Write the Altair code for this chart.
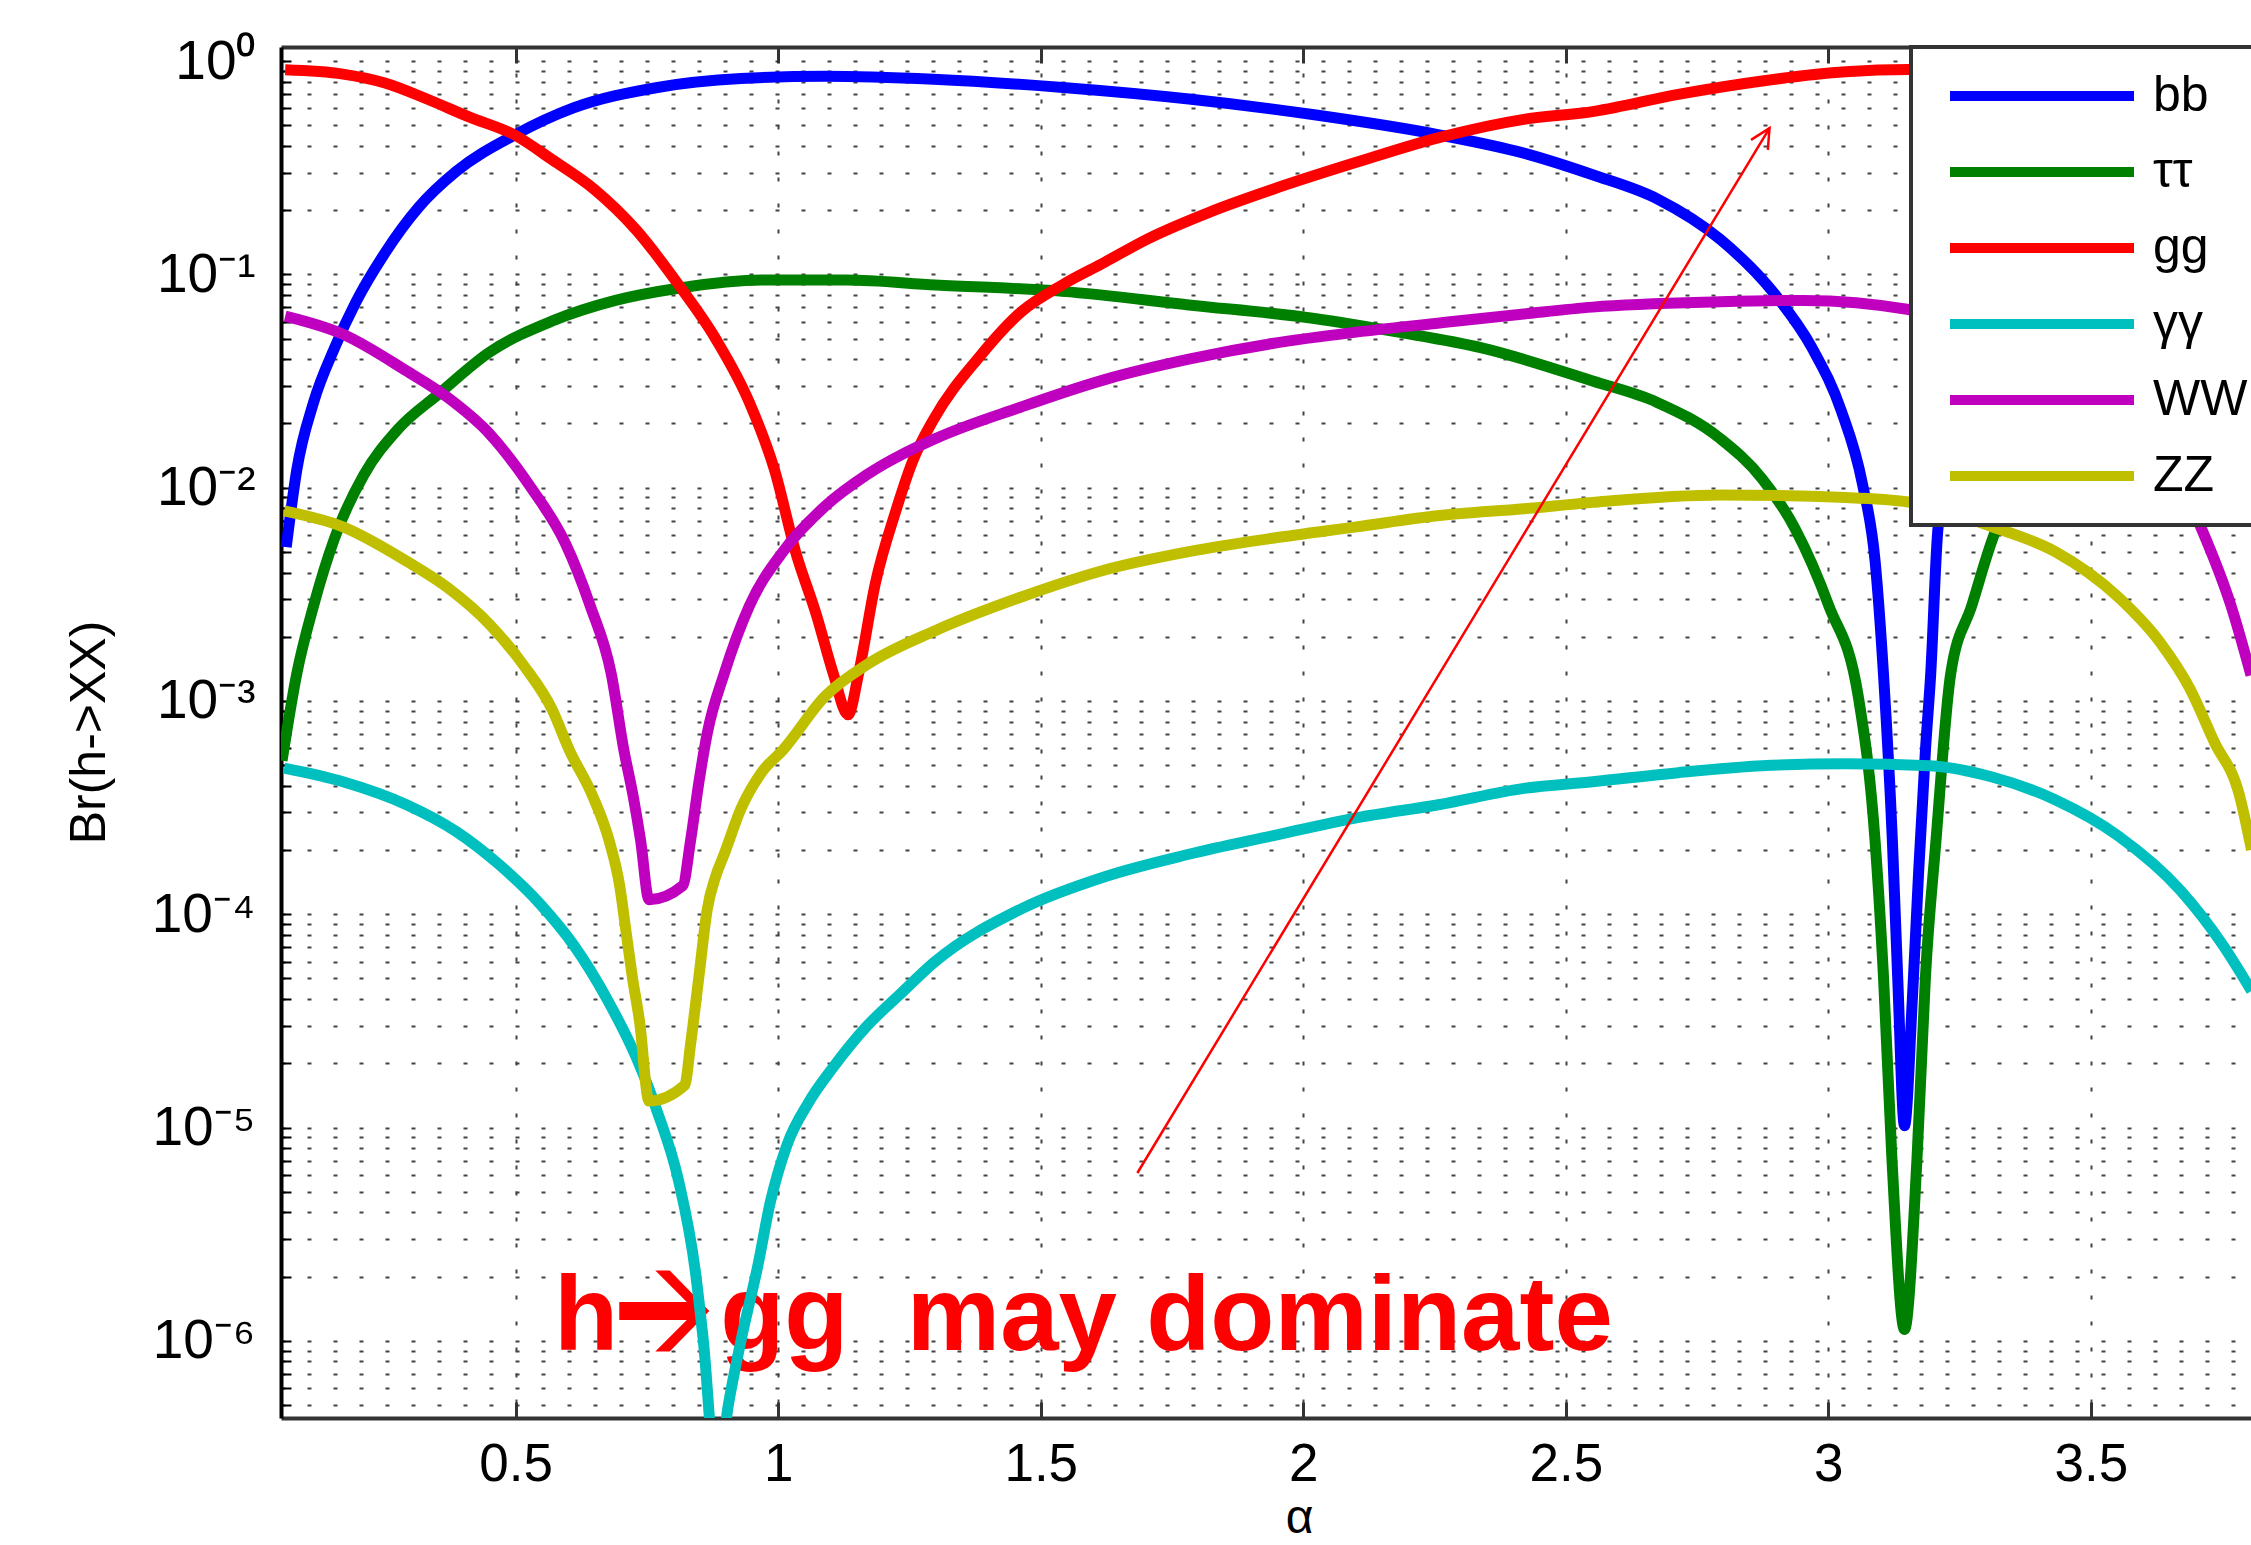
import altair as alt
import pandas as pd

# ---------------- data ----------------
series_names = ["bb", "ττ", "gg", "γγ", "WW", "ZZ"]
series_colors = ["#0000FF", "#008000", "#FF0000", "#00BFBF", "#BF00BF", "#BFBF00"]

bb_alpha = [0.063, 0.083, 0.115, 0.155, 0.195, 0.251, 0.315, 0.387, 0.498, 0.610, 0.770, 0.929, 1.089, 1.296,
            1.542, 1.782, 2.021, 2.261, 2.420, 2.551, 2.674, 2.794, 2.897, 2.969, 3.025, 3.065, 3.089, 3.105,
            3.122, 3.132, 3.145, 3.160, 3.172, 3.185, 3.195, 3.209, 3.230, 3.270, 3.330, 3.400, 3.500, 3.620,
            3.740, 3.810]
bb_br = [0.00526, 0.0121, 0.0251, 0.0452, 0.0736, 0.126, 0.206, 0.304, 0.450, 0.603, 0.752, 0.828, 0.849, 0.822,
         0.752, 0.664, 0.560, 0.450, 0.370, 0.293, 0.226, 0.146, 0.0813, 0.0452, 0.0228, 0.0104, 0.00454, 0.00134,
         2.21e-4, 5.13e-5, 1.02e-5, 3.98e-5, 1.58e-4, 5.89e-4, 0.00134, 0.0065, 0.0115, 0.0228, 0.0452, 0.0813,
         0.146, 0.226, 0.293, 0.331]

tt_alpha = [0.055, 0.083, 0.115, 0.155, 0.211, 0.275, 0.355, 0.450, 0.570, 0.690, 0.810, 0.969, 1.129, 1.300,
            1.542, 1.782, 2.021, 2.181, 2.340, 2.551, 2.674, 2.794, 2.874, 2.937, 3.001, 3.057, 3.089, 3.105,
            3.121, 3.145, 3.169, 3.185, 3.205, 3.233, 3.273, 3.320, 3.400, 3.500, 3.620, 3.740, 3.810]
tt_br = [5.25e-4, 0.00134, 0.00279, 0.00579, 0.0115, 0.0187, 0.0277, 0.0431, 0.0605, 0.0755, 0.0861, 0.0940,
         0.0940, 0.0891, 0.0832, 0.0719, 0.0621, 0.0536, 0.0452, 0.0316, 0.0251, 0.0170, 0.0110, 0.00640, 0.00279,
         0.00105, 2.21e-4, 5.11e-5, 7.23e-6, 1.13e-6, 7.23e-6, 5.11e-5, 2.21e-4, 0.00134, 0.00279, 0.00640,
         0.0110, 0.0170, 0.0251, 0.0316, 0.038]

gg_alpha = [0.061, 0.171, 0.251, 0.331, 0.411, 0.498, 0.570, 0.650, 0.730, 0.810, 0.881, 0.945, 0.993, 1.033,
            1.073, 1.105, 1.133, 1.153, 1.185, 1.224, 1.256, 1.296, 1.383, 1.463, 1.542, 1.622, 1.702, 1.822,
            1.941, 2.101, 2.260, 2.420, 2.554, 2.714, 2.874, 3.033, 3.153, 3.400, 3.810]
gg_br = [0.91, 0.869, 0.789, 0.664, 0.547, 0.450, 0.344, 0.250, 0.161, 0.0895, 0.0498, 0.0251, 0.0121, 0.00501,
         0.00252, 0.00134, 0.000861, 0.00134, 0.00356, 0.00778, 0.0133, 0.0209, 0.0410, 0.0668, 0.0895, 0.114,
         0.146, 0.196, 0.250, 0.335, 0.439, 0.533, 0.581, 0.698, 0.807, 0.891, 0.912, 0.891, 0.81]

aa_alpha = [0.059, 0.171, 0.291, 0.387, 0.466, 0.546, 0.610, 0.674, 0.730, 0.770, 0.810, 0.842, 0.857, 0.883,
            0.905, 0.929, 0.961, 0.985, 1.017, 1.057, 1.105, 1.169, 1.232, 1.296, 1.463, 1.622, 1.782, 1.941,
            2.101, 2.260, 2.420, 2.551, 2.714, 2.874, 3.033, 3.193, 3.312, 3.432, 3.552, 3.671, 3.751, 3.806]
aa_br = [4.84e-4, 4.18e-4, 3.27e-4, 2.44e-4, 1.73e-4, 1.12e-4, 7.19e-5, 4.0e-5, 2.12e-5, 1.18e-5, 5.66e-6,
         2.13e-6, 1.02e-6, 2.2e-7, 5.0e-7, 1.0e-6, 2.24e-6, 4.47e-6, 8.32e-6, 1.30e-5, 1.92e-5, 2.99e-5, 4.21e-5,
         5.92e-5, 1.06e-4, 1.50e-4, 1.91e-4, 2.33e-4, 2.83e-4, 3.27e-4, 3.89e-4, 4.18e-4, 4.61e-4, 4.97e-4,
         5.08e-4, 4.97e-4, 4.40e-4, 3.44e-4, 2.33e-4, 1.29e-4, 7.19e-5, 4.37e-5]

ww_alpha = [0.061, 0.171, 0.291, 0.371, 0.450, 0.530, 0.594, 0.642, 0.682, 0.706, 0.724, 0.738, 0.754, 0.818,
            0.833, 0.849, 0.865, 0.897, 0.945, 1.009, 1.089, 1.169, 1.300, 1.463, 1.622, 1.782, 1.941, 2.101,
            2.260, 2.420, 2.551, 2.794, 2.953, 3.153, 3.312, 3.432, 3.552, 3.632, 3.711, 3.767, 3.805]
ww_br = [0.0637, 0.0524, 0.0354, 0.0264, 0.0179, 0.00993, 0.00552, 0.00279, 0.00134, 5.89e-4, 3.55e-4, 2.21e-4,
         1.17e-4, 1.36e-4, 2.21e-4, 4.17e-4, 7.08e-4, 0.00134, 0.00279, 0.00501, 0.00817, 0.0115, 0.0170, 0.0239,
         0.0321, 0.0400, 0.0474, 0.0536, 0.0592, 0.0652, 0.0702, 0.0743, 0.0755, 0.0684, 0.0537, 0.0407, 0.0251,
         0.0155, 0.00640, 0.00279, 0.00132]

zz_alpha = [0.059, 0.171, 0.291, 0.371, 0.450, 0.514, 0.570, 0.602, 0.646, 0.678, 0.698, 0.710, 0.722, 0.736,
            0.754, 0.822, 0.833, 0.849, 0.865, 0.881, 0.897, 0.929, 0.970, 1.009, 1.089, 1.169, 1.300, 1.463,
            1.622, 1.782, 1.941, 2.101, 2.260, 2.420, 2.551, 2.794, 3.033, 3.153, 3.312, 3.432, 3.552, 3.632,
            3.688, 3.735, 3.783, 3.806]
zz_br = [0.00778, 0.00655, 0.00454, 0.00339, 0.00229, 0.00148, 9.06e-4, 5.89e-4, 3.61e-4, 2.21e-4, 1.36e-4,
         8.34e-5, 5.11e-5, 3.13e-5, 1.33e-5, 1.58e-5, 2.45e-5, 5.11e-5, 1.06e-4, 1.51e-4, 1.91e-4, 3.12e-4,
         4.68e-4, 5.89e-4, 0.00105, 0.00148, 0.00214, 0.00307, 0.00411, 0.00501, 0.00579, 0.00655, 0.00740,
         0.00796, 0.00853, 0.00923, 0.00899, 0.00857, 0.00655, 0.00501, 0.00307, 0.00188, 0.00115, 6.43e-4,
         3.61e-4, 2.0e-4]

# annotation "h→gg  may dominate" (the arrow glyph is drawn as a symbol)
note_parts = ["h", "gg\u00a0 may dominate"]
note_alpha = [0.573, 0.8895]
note_br = [9.05e-7, 9.05e-7]
note_arrow_alpha = [0.783]
note_arrow_br = [1.38e-6]
arrow_start_alpha = [1.684]
arrow_start_br = [6.12e-6]
arrow_end_alpha = [2.888]
arrow_end_br = [0.485]

# axes
x_domain = [0.053, 3.805]
y_domain = [4.345e-7, 1.164]
x_tick_values = [0.5, 1.0, 1.5, 2.0, 2.5, 3.0, 3.5]
y_tick_values = [k * 10.0 ** e for e in range(-7, 1) for k in range(1, 10)
                 if y_domain[0] <= k * 10.0 ** e <= y_domain[1]]
sup_labels = ["\u2070", "\u207b\u00b9", "\u207b\u00b2", "\u207b\u00b3", "\u207b\u2074", "\u207b\u2075",
              "\u207b\u2076", "\u207b\u2077"]

# ---------------- build ----------------
rows = []
for name, xs, ys in zip(series_names,
                        [bb_alpha, tt_alpha, gg_alpha, aa_alpha, ww_alpha, zz_alpha],
                        [bb_br, tt_br, gg_br, aa_br, ww_br, zz_br]):
    for a, b in zip(xs, ys):
        rows.append({"series": name, "alpha": a, "br": b})
df = pd.DataFrame(rows)

FONT = "Liberation Sans"
x_scale = alt.Scale(domain=x_domain, nice=False, zero=False)
y_scale = alt.Scale(type="log", domain=y_domain, nice=False)

sup_js = "[" + ",".join("'" + s + "'" for s in sup_labels) + "]"
y_label_expr = (
    "abs(log(datum.value)/LN10 - round(log(datum.value)/LN10)) < 0.001 ? "
    "'10' + " + sup_js + "[-round(log(datum.value)/LN10)] : ''"
)

axis_bottom = alt.Axis(
    orient="bottom", values=x_tick_values, labelExpr="format(datum.value, '~g')",
    grid=True, gridDash=[4, 22], gridColor="#444444", gridWidth=2,
    domainColor="#333333", domainWidth=4,
    ticks=True, tickColor="#333333", tickWidth=3, tickSize=alt.ExprRef(expr="-16"),
    labelPadding=36, labelFontSize=53, labelFont=FONT, labelColor="black",
    labelFlush=False, labelOverlap=False,
    title="\u03b1", titleFont=FONT, titleFontSize=48, titleFontWeight="normal", titleColor="black",
    titleX=1018, titleY=100, titleBaseline="middle", titleAlign="center",
)
axis_top = alt.Axis(
    orient="top", values=x_tick_values, labels=False, grid=False,
    domainColor="#333333", domainWidth=4,
    ticks=True, tickColor="#333333", tickWidth=3, tickSize=alt.ExprRef(expr="-16"),
    title=None,
)
axis_left = alt.Axis(
    orient="left", values=y_tick_values, labelExpr=y_label_expr,
    grid=True, gridDash=[4, 22], gridColor="#444444", gridWidth=2,
    domainColor="black", domainWidth=4,
    ticks=True, tickColor="black", tickWidth=2, tickSize=alt.ExprRef(expr="-10"),
    labelPadding=36, labelFontSize=55, labelFont=FONT, labelColor="black",
    labelFlush=False, labelOverlap=False,
    title="Br(h->XX)", titleFont=FONT, titleFontSize=50, titleFontWeight="normal", titleColor="black",
    titleX=-192, titleY=685, titleAngle=270, titleBaseline="middle", titleAlign="center",
)

legend = alt.Legend(
    title=None, orient="none", legendX=1630, legendY=0,
    symbolType="M-0.5,0L8.7,0", symbolSize=1600, symbolStrokeWidth=10,
    labelFontSize=50, labelFont=FONT, labelColor="black", labelOffset=168, labelLimit=0,
    padding=24, rowPadding=26, strokeColor="#333333", fillColor="white", zindex=1,
)

lines = alt.Chart(df).mark_line(strokeWidth=11, clip=True, interpolate="monotone", strokeJoin="round").encode(
    x=alt.X("alpha:Q", scale=x_scale, axis=axis_bottom),
    y=alt.Y("br:Q", scale=y_scale, axis=axis_left),
    color=alt.Color("series:N", scale=alt.Scale(domain=series_names, range=series_colors), legend=legend),
)

note_df = pd.DataFrame({"alpha": note_alpha, "br": note_br, "text": note_parts})
note = alt.Chart(note_df).mark_text(
    align="left", baseline="alphabetic", font=FONT, fontWeight="bold", fontSize=105, color="#FF0000"
).encode(
    x=alt.X("alpha:Q", scale=x_scale, axis=None),
    y=alt.Y("br:Q", scale=y_scale, axis=None),
    text="text:N",
)
note_arrow_df = pd.DataFrame({"alpha": note_arrow_alpha, "br": note_arrow_br})
note_arrow = alt.Chart(note_arrow_df).mark_point(
    shape="M1,0L0.12,-0.9L-0.2,-0.9L0.5,-0.2L-1,-0.2L-1,0.2L0.5,0.2L-0.2,0.9L0.12,0.9Z",
    size=8100, filled=True, color="#FF0000", opacity=1, strokeWidth=0,
).encode(
    x=alt.X("alpha:Q", scale=x_scale, axis=None),
    y=alt.Y("br:Q", scale=y_scale, axis=None),
)

arrow_df = pd.DataFrame({"x0": arrow_start_alpha, "y0": arrow_start_br,
                         "x1": arrow_end_alpha, "y1": arrow_end_br})
shaft = alt.Chart(arrow_df).mark_rule(color="#FF0000", strokeWidth=2.5).encode(
    x=alt.X("x0:Q", scale=x_scale, axis=axis_top),
    x2="x1:Q",
    y=alt.Y("y0:Q", scale=y_scale, axis=None),
    y2="y1:Q",
)
head = alt.Chart(arrow_df).mark_point(
    shape="M-1,2L0,0L1,2", size=384, angle=31, filled=False, color="#FF0000", strokeWidth=2.5, opacity=1
).encode(
    x=alt.X("x1:Q", scale=x_scale, axis=None),
    y=alt.Y("y1:Q", scale=y_scale, axis=None),
)

chart = (
    alt.layer(note, note_arrow, lines, shaft, head)
    .resolve_axis(x="independent", y="independent")
    .properties(
        width=1970, height=1371,
        padding={"left": 281, "top": 47, "right": 0, "bottom": 127},
        autosize=alt.AutoSizeParams(type="none"),
        background="white",
    )
    .configure_view(stroke=None)
    .configure_legend(strokeWidth=4)
)

chart.save("out.html", embed_options={"renderer": "svg", "actions": False})
